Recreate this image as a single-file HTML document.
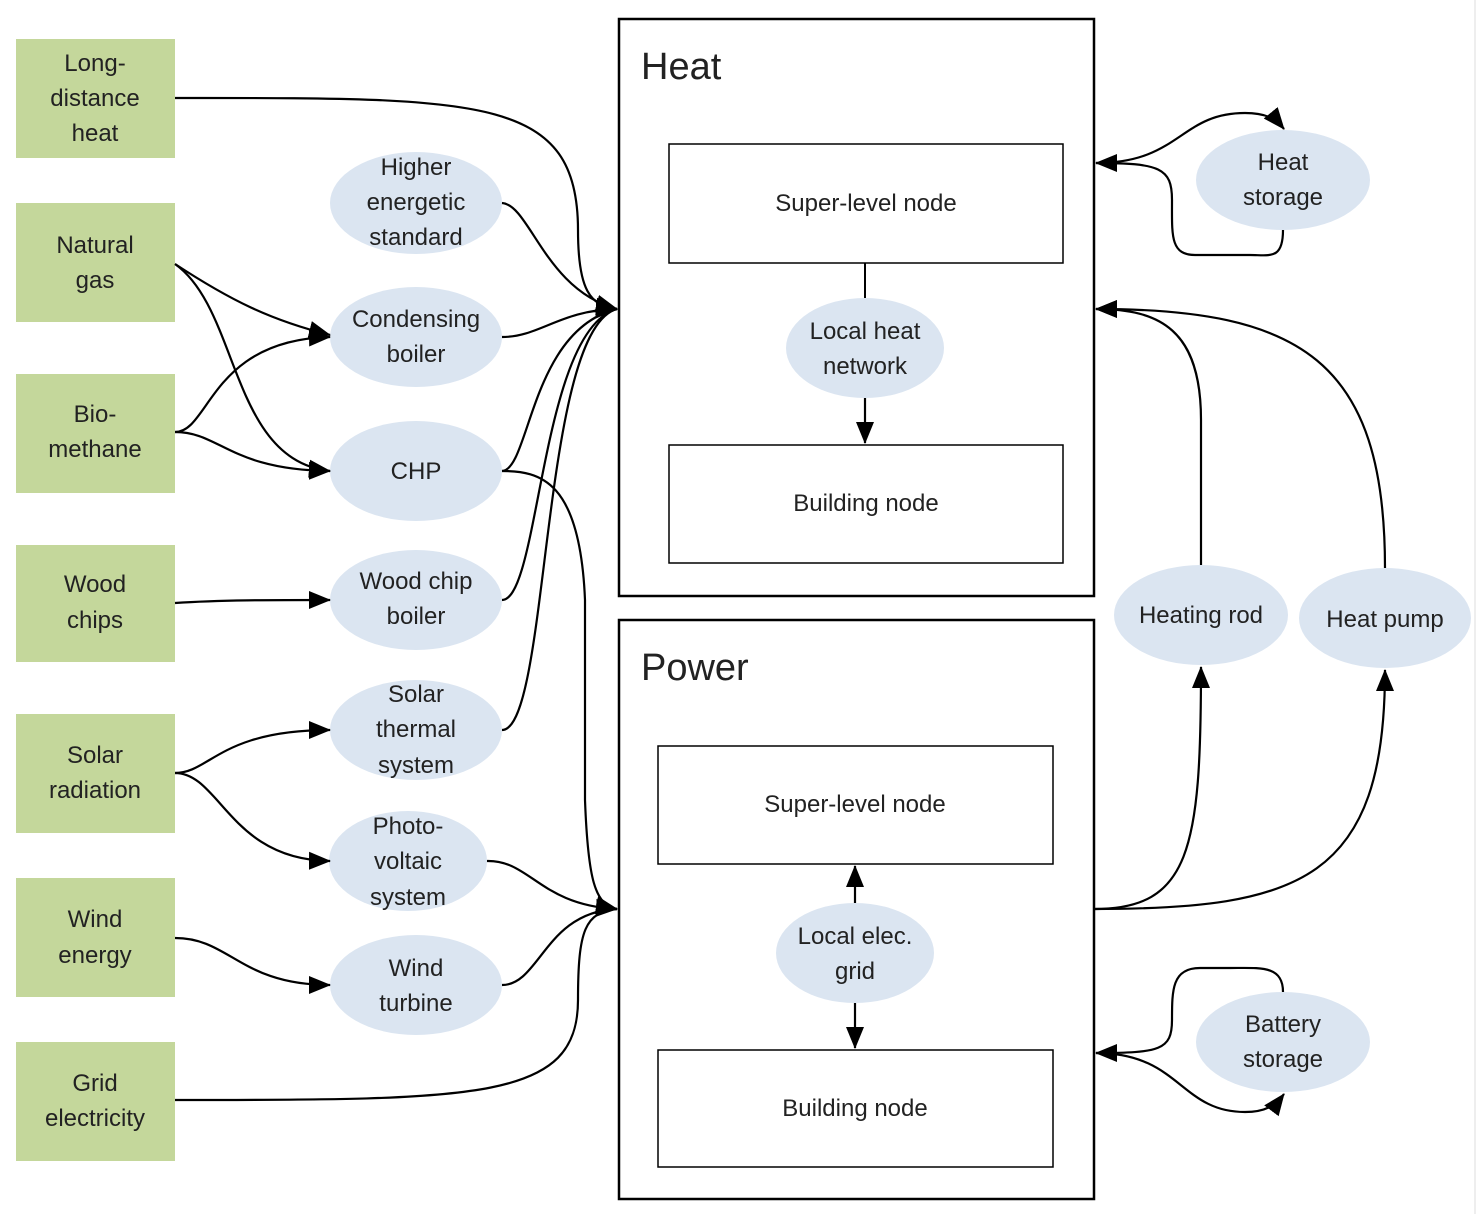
<!DOCTYPE html>
<html><head><meta charset="utf-8"><style>
html,body{margin:0;padding:0;background:#fff;}
svg{display:block;}
text{font-family:"Liberation Sans",sans-serif;font-size:24px;fill:#222;text-anchor:middle;}
</style></head><body>
<svg width="1482" height="1214" viewBox="0 0 1482 1214" xmlns="http://www.w3.org/2000/svg">
<defs>
<marker id="a" viewBox="0 0 22 20" refX="21" refY="10" markerWidth="22" markerHeight="20" markerUnits="userSpaceOnUse" orient="auto">
<path d="M0,1 L22,10 L0,19 z" fill="#000"/>
</marker>
</defs>
<line x1="1475" y1="0" x2="1475" y2="1214" stroke="#ddd" stroke-width="1"/>
<g fill="#c4d79b">
<rect x="16" y="39" width="159" height="119"/>
<rect x="16" y="203" width="159" height="119"/>
<rect x="16" y="374" width="159" height="119"/>
<rect x="16" y="545" width="159" height="117"/>
<rect x="16" y="714" width="159" height="119"/>
<rect x="16" y="878" width="159" height="119"/>
<rect x="16" y="1042" width="159" height="119"/>
</g>
<g fill="#dbe5f1">
<ellipse cx="416" cy="203" rx="86" ry="51"/>
<ellipse cx="416" cy="337" rx="86" ry="50"/>
<ellipse cx="416" cy="471" rx="86" ry="50"/>
<ellipse cx="416" cy="600" rx="86" ry="50"/>
<ellipse cx="416" cy="730" rx="86" ry="50"/>
<ellipse cx="408" cy="861" rx="79" ry="50"/>
<ellipse cx="416" cy="985" rx="86" ry="50"/>
<ellipse cx="865" cy="348" rx="79" ry="50"/>
<ellipse cx="855" cy="953" rx="79" ry="50"/>
<ellipse cx="1283" cy="180" rx="87" ry="50"/>
<ellipse cx="1201" cy="615" rx="87" ry="50"/>
<ellipse cx="1385" cy="618" rx="86" ry="50"/>
<ellipse cx="1283" cy="1042" rx="87" ry="50"/>
</g>
<g fill="none" stroke="#000">
<rect x="619" y="19" width="475" height="577" stroke-width="2.5"/>
<rect x="619" y="620" width="475" height="579" stroke-width="2.5"/>
<rect x="669" y="144" width="394" height="119" stroke-width="1.5"/>
<rect x="669" y="445" width="394" height="118" stroke-width="1.5"/>
<rect x="658" y="746" width="395" height="118" stroke-width="1.5"/>
<rect x="658" y="1050" width="395" height="117" stroke-width="1.5"/>
</g>
<g fill="none" stroke="#000" stroke-width="2.2">
<path d="M175,98 C480,98 578,95 578,230 C578,290 590,306 617,309" marker-end="url(#a)"/>
<path d="M502,203 C530,205 545,290 617,309" marker-end="url(#a)"/>
<path d="M502,337 C540,337 560,310 617,309" marker-end="url(#a)"/>
<path d="M502,471 C530,470 530,330 617,309"/>
<path d="M502,600 C540,600 540,330 617,309"/>
<path d="M502,730 C550,730 540,330 617,309"/>
<path d="M502,471 C540,471 580,480 585,600 L585,800 C588,880 595,905 617,909" marker-end="url(#a)"/>
<path d="M487,861 C530,860 540,905 617,909" marker-end="url(#a)"/>
<path d="M502,985 C540,985 545,912 617,909"/>
<path d="M175,1100 C480,1100 578,1100 578,1000 C578,930 585,912 617,909"/>
<path d="M175,264 C230,300 270,320 330,335" marker-end="url(#a)"/>
<path d="M175,264 C240,310 230,460 330,471" marker-end="url(#a)"/>
<path d="M175,432 C210,432 210,340 330,337" marker-end="url(#a)"/>
<path d="M175,432 C220,432 230,470 330,471" marker-end="url(#a)"/>
<path d="M175,603 C220,600 270,600 330,600" marker-end="url(#a)"/>
<path d="M175,773 C210,773 220,730 330,730" marker-end="url(#a)"/>
<path d="M175,773 C220,773 230,860 330,861" marker-end="url(#a)"/>
<path d="M175,938 C230,938 240,985 330,985" marker-end="url(#a)"/>
<line x1="865" y1="263" x2="865" y2="298" stroke-width="2"/>
<line x1="865" y1="398" x2="865" y2="443" marker-end="url(#a)"/>
<line x1="855" y1="903" x2="855" y2="866" marker-end="url(#a)"/>
<line x1="855" y1="1003" x2="855" y2="1048" marker-end="url(#a)"/>
<path d="M1096,163 C1180,163 1180,113 1245,113 C1265,113 1275,118 1284,129" marker-end="url(#a)"/>
<path d="M1283,230 C1283,260 1270,255 1250,255 L1195,255 C1170,255 1172,235 1172,200 C1172,168 1160,163 1096,163" marker-end="url(#a)"/>
<path d="M1201,565 L1201,420 C1201,330 1160,309 1096,309" marker-end="url(#a)"/>
<path d="M1385,568 C1385,360 1300,309 1096,309" marker-end="url(#a)"/>
<path d="M1094,909 C1190,909 1201,850 1201,667" marker-end="url(#a)"/>
<path d="M1094,909 C1300,909 1385,880 1385,670" marker-end="url(#a)"/>
<path d="M1283,992 C1283,965 1260,968 1230,968 L1200,968 C1172,968 1172,990 1172,1020 C1172,1050 1160,1053 1096,1053" marker-end="url(#a)"/>
<path d="M1096,1053 C1180,1053 1180,1112 1245,1112 C1265,1112 1275,1106 1284,1094" marker-end="url(#a)"/>
</g>
<text x="95" y="71">Long-</text><text x="95" y="106">distance</text><text x="95" y="141">heat</text>
<text x="95" y="253">Natural</text><text x="95" y="288">gas</text>
<text x="95" y="422">Bio-</text><text x="95" y="457">methane</text>
<text x="95" y="592">Wood</text><text x="95" y="628">chips</text>
<text x="95" y="763">Solar</text><text x="95" y="798">radiation</text>
<text x="95" y="927">Wind</text><text x="95" y="963">energy</text>
<text x="95" y="1091">Grid</text><text x="95" y="1126">electricity</text>
<text x="416" y="175">Higher</text><text x="416" y="210">energetic</text><text x="416" y="245">standard</text>
<text x="416" y="327">Condensing</text><text x="416" y="362">boiler</text>
<text x="416" y="479">CHP</text>
<text x="416" y="589">Wood chip</text><text x="416" y="624">boiler</text>
<text x="416" y="702">Solar</text><text x="416" y="737">thermal</text><text x="416" y="773">system</text>
<text x="408" y="834">Photo-</text><text x="408" y="869">voltaic</text><text x="408" y="905">system</text>
<text x="416" y="976">Wind</text><text x="416" y="1011">turbine</text>
<text x="865" y="339">Local heat</text><text x="865" y="374">network</text>
<text x="855" y="944">Local elec.</text><text x="855" y="979">grid</text>
<text x="866" y="211">Super-level node</text>
<text x="866" y="511">Building node</text>
<text x="855" y="812">Super-level node</text>
<text x="855" y="1116">Building node</text>
<text x="1283" y="170">Heat</text><text x="1283" y="205">storage</text>
<text x="1201" y="623">Heating rod</text>
<text x="1385" y="627">Heat pump</text>
<text x="1283" y="1032">Battery</text><text x="1283" y="1067">storage</text>
<text x="641" y="79" style="font-size:38px;text-anchor:start">Heat</text>
<text x="641" y="680" style="font-size:38px;text-anchor:start">Power</text>
</svg>
</body></html>
